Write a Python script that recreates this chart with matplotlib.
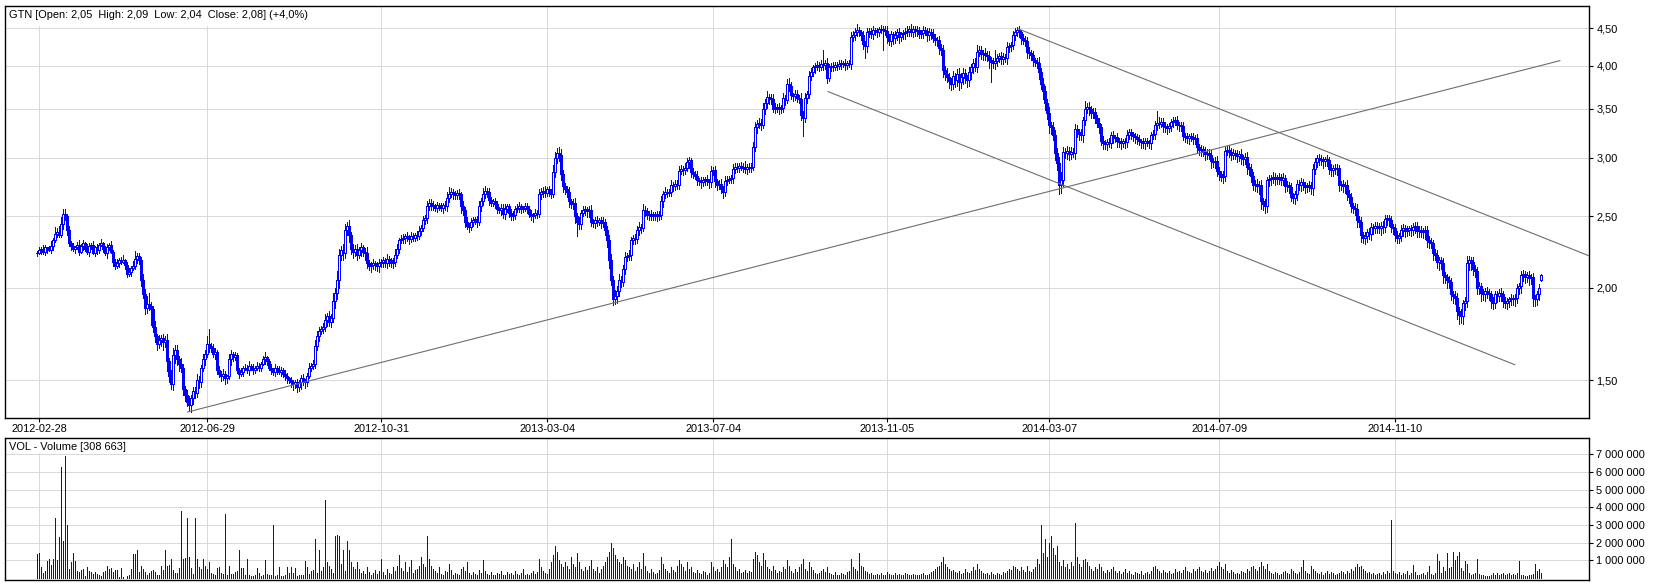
import numpy as np
import matplotlib
matplotlib.use("Agg")
import matplotlib.pyplot as plt
from matplotlib.ticker import FixedLocator, NullLocator, FuncFormatter
from matplotlib.patches import Rectangle

plt.rcParams['font.family'] = ['Liberation Sans', 'DejaVu Sans']

# ---------------- data (daily closes in grosze, day index starts at -1) ----------------
close_cents = [
    223, 225, 226, 224, 227, 226, 225, 228, 232, 237,
    238, 236, 244, 252, 250, 240, 230, 228, 226, 227,
    229, 224, 228, 230, 226, 224, 228, 229, 223, 227,
    225, 229, 230, 226, 223, 227, 229, 224, 217, 214,
    216, 218, 217, 218, 215, 209, 210, 213, 214, 219,
    221, 218, 205, 196, 188, 190, 189, 187, 177, 172,
    168, 170, 171, 169, 170, 159, 152, 148, 162, 165,
    160, 158, 156, 146, 143, 140, 139, 142, 145, 144,
    150, 149, 156, 160, 163, 168, 167, 166, 163, 164,
    155, 153, 152, 153, 151, 152, 160, 163, 161, 162,
    155, 153, 154, 156, 156, 155, 157, 156, 155, 156,
    157, 156, 158, 160, 161, 159, 156, 155, 154, 156,
    155, 154, 155, 153, 152, 151, 150, 149, 148, 149,
    147, 149, 151, 150, 149, 152, 156, 157, 158, 167,
    172, 175, 176, 177, 181, 183, 180, 182, 192, 197,
    205, 222, 225, 223, 240, 243, 236, 226, 224, 226,
    222, 225, 227, 224, 223, 216, 214, 215, 216, 215,
    214, 216, 217, 218, 216, 219, 218, 216, 217, 222,
    226, 232, 233, 234, 235, 234, 233, 235, 234, 236,
    235, 239, 241, 247, 249, 258, 261, 259, 258, 257,
    259, 258, 257, 259, 258, 265, 268, 270, 268, 267,
    269, 268, 258, 255, 246, 243, 242, 246, 247, 248,
    246, 258, 262, 268, 271, 270, 263, 261, 262, 260,
    256, 255, 257, 252, 256, 258, 253, 250, 251, 256,
    257, 258, 256, 257, 258, 256, 252, 250, 251, 253,
    252, 268, 270, 271, 269, 272, 270, 268, 287, 300,
    305, 303, 285, 275, 272, 270, 262, 260, 261, 250,
    246, 244, 253, 255, 256, 254, 255, 246, 245, 247,
    246, 247, 245, 246, 240, 232, 218, 205, 193, 195,
    198, 205, 204, 212, 220, 221, 222, 232, 234, 233,
    240, 242, 241, 255, 254, 251, 252, 250, 251, 252,
    250, 251, 262, 268, 270, 269, 270, 276, 275, 277,
    276, 288, 290, 289, 291, 296, 298, 287, 285, 284,
    280, 279, 278, 280, 281, 279, 278, 288, 289, 279,
    276, 277, 272, 270, 279, 280, 281, 282, 290, 292,
    291, 293, 292, 291, 290, 292, 291, 292, 310, 330,
    334, 335, 333, 350, 356, 363, 362, 361, 350, 351,
    352, 350, 351, 362, 360, 378, 376, 365, 364, 366,
    362, 361, 343, 340, 362, 366, 388, 392, 398, 400,
    401, 399, 402, 401, 403, 385, 398, 400, 399, 401,
    400, 402, 403, 404, 401, 403, 402, 438, 440, 445,
    447, 444, 440, 428, 425, 445, 446, 441, 447, 446,
    445, 448, 449, 447, 446, 437, 432, 441, 436, 440,
    444, 437, 441, 443, 445, 446, 448, 444, 449, 446,
    447, 442, 443, 447, 446, 440, 444, 442, 436, 433,
    433, 423, 420, 395, 390, 386, 381, 378, 387, 383,
    390, 380, 386, 391, 385, 383, 392, 398, 404, 399,
    418, 420, 415, 416, 414, 413, 407, 405, 403, 406,
    410, 412, 409, 411, 410, 424, 425, 427, 440, 445,
    447, 444, 436, 434, 432, 418, 416, 414, 407, 405,
    404, 392, 378, 370, 356, 345, 332, 330, 322, 305,
    295, 276, 280, 306, 305, 307, 304, 306, 305, 328,
    325, 323, 322, 338, 350, 352, 349, 345, 346, 340,
    335, 330, 316, 314, 313, 315, 314, 322, 319, 320,
    316, 315, 314, 316, 315, 322, 325, 323, 321, 320,
    318, 316, 315, 314, 316, 315, 314, 322, 323, 333,
    335, 334, 336, 331, 330, 329, 331, 336, 337, 338,
    333, 332, 331, 321, 320, 319, 321, 320, 318, 319,
    310, 308, 309, 306, 304, 305, 303, 297, 296, 297,
    288, 285, 283, 284, 307, 308, 306, 303, 305, 304,
    302, 304, 300, 299, 301, 292, 290, 284, 276, 277,
    275, 276, 262, 260, 258, 280, 281, 282, 283, 281,
    282, 283, 280, 282, 275, 276, 274, 266, 265, 268,
    277, 276, 278, 276, 274, 275, 276, 273, 290, 296,
    300, 299, 298, 297, 299, 298, 290, 289, 291, 290,
    291, 276, 277, 275, 276, 268, 266, 258, 257, 256,
    247, 246, 236, 234, 235, 238, 237, 242, 241, 243,
    242, 241, 243, 242, 248, 249, 247, 242, 241, 236,
    234, 235, 240, 241, 239, 240, 241, 240, 242, 243,
    239, 240, 238, 239, 240, 232, 231, 230, 223, 222,
    217, 218, 216, 208, 207, 205, 204, 196, 195, 194,
    186, 184, 183, 191, 192, 216, 218, 217, 212, 211,
    200, 201, 197, 196, 198, 197, 196, 192, 191, 196,
    195, 197, 196, 192, 191, 192, 193, 194, 193, 194,
    200, 201, 208, 209, 207, 208, 206, 207, 194, 193,
    196, 200, 208,
]

# upper / lower wick length of each candle, in units of 0.2 % of the body edge
wick_up = [
    3, 5, 2, 6, 4, 0, 5, 8, 4, 10,
    6, 9, 12, 5, 7, 4, 6, 3, 5, 2,
    4, 7, 3, 5, 2, 8, 4, 3, 6, 2,
    5, 3, 7, 2, 4, 6, 3, 5, 2, 4,
    6, 3, 5, 8, 2, 4, 7, 3, 9, 12,
    5, 4, 6, 10, 8, 14, 5, 7, 6, 9,
    4, 8, 5, 6, 7, 10, 6, 9, 12, 8,
    7, 5, 9, 6, 4, 8, 10, 5, 7, 6,
    9, 6, 4, 8, 5, 12, 7, 4, 6, 5,
    3, 6, 4, 7, 5, 2, 8, 6, 3, 5,
    4, 2, 6, 3, 5, 4, 7, 2, 5, 3,
    6, 4, 3, 5, 8, 2, 4, 6, 3, 5,
    2, 5, 4, 3, 6, 4, 2, 5, 3, 4,
    5, 3, 4, 6, 2, 5, 7, 4, 6, 9,
    8, 6, 5, 7, 10, 6, 9, 7, 12, 8,
    14, 9, 7, 10, 8, 6, 9, 5, 7, 6,
    8, 5, 7, 4, 6, 9, 5, 4, 7, 3,
    5, 7, 4, 6, 3, 8, 5, 4, 6, 9,
    7, 4, 6, 5, 3, 6, 4, 7, 5, 3,
    6, 8, 5, 7, 4, 9, 6, 5, 7, 4,
    5, 3, 6, 4, 7, 9, 5, 6, 4, 5,
    4, 6, 3, 8, 5, 7, 4, 6, 5, 3,
    5, 8, 6, 9, 7, 4, 6, 5, 3, 6,
    4, 3, 6, 5, 7, 4, 3, 5, 6, 4,
    5, 7, 4, 3, 6, 5, 4, 6, 3, 5,
    4, 8, 6, 5, 7, 4, 6, 5, 12, 10,
    8, 6, 9, 7, 5, 6, 8, 4, 6, 7,
    5, 7, 4, 6, 5, 3, 6, 8, 4, 5,
    6, 4, 5, 7, 4, 6, 8, 10, 7, 9,
    8, 10, 7, 6, 9, 5, 7, 6, 4, 6,
    5, 7, 4, 9, 6, 5, 4, 6, 5, 3,
    4, 6, 8, 5, 7, 4, 5, 7, 4, 6,
    5, 8, 6, 4, 7, 6, 5, 4, 6, 5,
    7, 4, 6, 5, 3, 6, 4, 8, 5, 6,
    4, 6, 7, 5, 8, 6, 4, 5, 7, 6,
    5, 4, 6, 5, 10, 4, 5, 6, 9, 8,
    6, 7, 5, 8, 6, 9, 5, 6, 8, 7,
    5, 6, 4, 7, 5, 8, 6, 5, 4, 6,
    7, 5, 9, 6, 8, 5, 7, 6, 4, 5,
    6, 4, 7, 5, 6, 8, 5, 4, 6, 5,
    4, 6, 5, 3, 6, 4, 5, 7, 6, 5,
    6, 5, 4, 7, 5, 6, 4, 5, 6, 4,
    5, 4, 6, 5, 7, 8, 6, 5, 4, 6,
    5, 6, 4, 5, 6, 7, 5, 6, 5, 4,
    6, 5, 4, 6, 5, 4, 6, 5, 7, 6,
    5, 7, 6, 8, 6, 9, 7, 5, 8, 6,
    7, 9, 6, 8, 7, 5, 8, 6, 5, 7,
    10, 6, 7, 5, 8, 6, 7, 5, 6, 4,
    6, 5, 7, 6, 5, 8, 6, 5, 7, 6,
    5, 6, 4, 7, 5, 6, 8, 5, 6, 4,
    6, 8, 7, 9, 8, 7, 10, 6, 8, 9,
    7, 10, 12, 8, 6, 7, 5, 8, 6, 9,
    7, 6, 8, 5, 12, 6, 7, 5, 6, 7,
    5, 7, 6, 8, 5, 6, 7, 5, 6, 4,
    6, 5, 7, 4, 6, 8, 5, 6, 4, 5,
    5, 6, 4, 7, 5, 6, 4, 5, 7, 6,
    5, 9, 6, 5, 7, 6, 5, 4, 6, 5,
    6, 4, 5, 7, 5, 6, 4, 5, 6, 5,
    7, 5, 6, 4, 8, 6, 5, 7, 5, 6,
    8, 6, 5, 7, 6, 5, 7, 6, 5, 4,
    6, 5, 7, 5, 6, 8, 6, 7, 5, 6,
    7, 6, 8, 6, 7, 5, 6, 5, 7, 6,
    5, 6, 4, 7, 5, 6, 5, 7, 6, 5,
    6, 5, 7, 6, 5, 4, 6, 5, 8, 6,
    5, 7, 6, 5, 4, 6, 5, 7, 5, 6,
    6, 5, 4, 6, 5, 7, 6, 5, 6, 7,
    8, 6, 7, 5, 6, 5, 7, 6, 5, 6,
    5, 6, 5, 7, 6, 5, 4, 6, 5, 7,
    6, 5, 7, 6, 5, 6, 4, 5, 6, 5,
    5, 6, 5, 4, 6, 5, 7, 6, 5, 6,
    7, 6, 5, 8, 6, 5, 7, 6, 5, 8,
    7, 6, 9, 5, 7, 12, 6, 5, 7, 6,
    6, 7, 5, 6, 5, 7, 6, 5, 6, 5,
    5, 6, 7, 5, 6, 5, 4, 6, 5, 6,
    6, 5, 7, 6, 5, 6, 7, 5, 6, 5,
    5, 6, 2,
]
wick_down = [
    4, 2, 6, 3, 5, 7, 2, 4, 6, 3,
    5, 3, 4, 8, 6, 9, 5, 7, 4, 6,
    3, 5, 2, 6, 4, 3, 7, 5, 2, 4,
    6, 4, 2, 5, 3, 7, 4, 2, 6, 5,
    3, 6, 4, 2, 7, 5, 3, 6, 4, 5,
    7, 5, 9, 6, 10, 8, 6, 12, 7, 9,
    10, 7, 9, 12, 8, 14, 10, 7, 9, 11,
    8, 12, 7, 10, 9, 6, 8, 11, 9, 7,
    6, 9, 7, 5, 8, 6, 10, 7, 5, 8,
    7, 5, 8, 6, 9, 7, 5, 8, 6, 4,
    5, 7, 4, 6, 3, 5, 8, 4, 6, 5,
    4, 6, 5, 3, 7, 5, 4, 6, 5, 7,
    6, 4, 7, 5, 6, 8, 5, 7, 9, 6,
    8, 6, 5, 7, 9, 6, 4, 6, 5, 7,
    6, 8, 5, 7, 6, 9, 7, 8, 6, 10,
    9, 12, 8, 10, 7, 9, 11, 8, 10, 7,
    8, 6, 9, 7, 10, 8, 6, 9, 7, 8,
    7, 9, 6, 8, 5, 7, 9, 6, 8, 6,
    5, 7, 4, 6, 8, 5, 7, 4, 6, 5,
    6, 4, 7, 5, 6, 8, 5, 7, 6, 5,
    7, 5, 6, 8, 5, 7, 6, 4, 7, 5,
    6, 8, 10, 7, 9, 6, 8, 5, 7, 6,
    8, 6, 7, 5, 6, 8, 7, 6, 5, 7,
    6, 5, 7, 6, 8, 5, 7, 6, 5, 6,
    5, 7, 6, 5, 6, 7, 5, 6, 8, 5,
    6, 5, 7, 8, 6, 5, 7, 6, 5, 8,
    7, 9, 8, 10, 7, 8, 9, 6, 8, 10,
    9, 7, 8, 6, 7, 9, 8, 7, 6, 8,
    7, 6, 8, 7, 9, 10, 12, 8, 9, 7,
    10, 8, 9, 7, 8, 6, 7, 8, 6, 7,
    6, 8, 7, 5, 7, 6, 8, 6, 5, 7,
    7, 5, 6, 8, 6, 7, 5, 6, 8, 6,
    6, 7, 5, 8, 6, 5, 9, 7, 6, 5,
    7, 6, 8, 5, 7, 6, 8, 7, 6, 9,
    8, 7, 6, 9, 7, 6, 5, 7, 8, 6,
    7, 6, 5, 7, 6, 8, 6, 7, 5, 6,
    8, 7, 9, 6, 8, 7, 9, 8, 6, 7,
    6, 8, 7, 6, 9, 5, 8, 6, 7, 6,
    7, 6, 8, 9, 7, 8, 6, 7, 6, 8,
    6, 7, 5, 8, 6, 7, 5, 6, 7, 5,
    6, 5, 7, 6, 8, 6, 5, 7, 6, 8,
    7, 6, 8, 7, 6, 8, 9, 6, 7, 6,
    8, 7, 6, 9, 7, 8, 6, 7, 9, 7,
    7, 8, 6, 7, 9, 7, 8, 6, 7, 8,
    8, 6, 7, 8, 6, 9, 7, 8, 6, 7,
    9, 10, 8, 11, 9, 8, 10, 9, 8, 11,
    10, 12, 9, 10, 8, 11, 9, 10, 8, 7,
    9, 7, 8, 10, 8, 9, 12, 8, 7, 9,
    8, 7, 9, 8, 7, 9, 8, 7, 6, 8,
    7, 8, 9, 7, 8, 10, 7, 8, 9, 7,
    9, 10, 8, 12, 10, 9, 11, 10, 8, 12,
    10, 14, 12, 9, 8, 10, 9, 8, 7, 10,
    8, 9, 7, 10, 8, 7, 9, 8, 7, 8,
    7, 8, 6, 9, 7, 8, 6, 7, 8, 6,
    8, 7, 9, 6, 8, 7, 6, 8, 7, 9,
    7, 6, 8, 7, 9, 6, 7, 8, 6, 7,
    8, 7, 6, 9, 7, 8, 6, 7, 8, 7,
    7, 8, 7, 6, 8, 7, 9, 6, 7, 8,
    9, 8, 10, 7, 9, 8, 7, 10, 8, 9,
    8, 9, 7, 10, 8, 7, 9, 8, 7, 8,
    9, 8, 10, 9, 8, 11, 9, 10, 8, 9,
    10, 12, 11, 9, 10, 8, 9, 10, 8, 9,
    8, 9, 7, 8, 10, 8, 9, 7, 8, 9,
    9, 8, 10, 8, 9, 7, 8, 9, 10, 8,
    8, 9, 8, 10, 7, 9, 8, 10, 9, 8,
    9, 10, 8, 9, 11, 9, 10, 8, 9, 10,
    10, 9, 11, 8, 10, 9, 8, 10, 9, 8,
    9, 8, 10, 9, 8, 10, 9, 8, 9, 10,
    8, 9, 8, 10, 9, 8, 9, 10, 8, 9,
    9, 10, 8, 9, 12, 10, 9, 8, 10, 9,
    10, 12, 9, 11, 10, 12, 10, 9, 11, 10,
    12, 14, 10, 12, 11, 9, 10, 12, 9, 10,
    9, 10, 12, 9, 10, 8, 9, 10, 9, 8,
    9, 8, 10, 9, 8, 10, 9, 8, 9, 10,
    8, 9, 10, 8, 9, 8, 10, 9, 12, 10,
    9, 8, 2,
]

# daily volume in units of 10 000 shares
volume_10k = [
    136, 142, 60, 26, 40, 96, 107, 75, 107, 340,
    104, 230, 630, 210, 690, 300, 53, 90, 140, 96,
    40, 32, 45, 53, 12, 64, 40, 32, 23, 32,
    23, 20, 12, 32, 38, 66, 49, 57, 32, 45,
    45, 8, 55, 8, 3, 11, 15, 53, 136, 136,
    158, 34, 68, 53, 34, 19, 30, 38, 45, 34,
    15, 15, 70, 45, 158, 70, 75, 110, 45, 26,
    26, 57, 378, 107, 115, 340, 120, 57, 23, 340,
    107, 60, 50, 110, 70, 50, 90, 30, 25, 20,
    55, 60, 30, 25, 360, 20, 70, 25, 25, 35,
    40, 158, 55, 55, 20, 106, 15, 12, 10, 20,
    55, 30, 10, 20, 100, 25, 20, 15, 300, 10,
    15, 60, 10, 12, 15, 60, 30, 60, 30, 55,
    10, 15, 15, 20, 95, 60, 25, 40, 45, 220,
    30, 160, 40, 60, 440, 90, 70, 50, 30, 240,
    245, 240, 80, 160, 40, 210, 160, 90, 60, 50,
    90, 50, 30, 40, 25, 60, 35, 20, 30, 45,
    25, 40, 110, 35, 20, 50, 30, 25, 60, 40,
    70, 130, 55, 40, 90, 35, 60, 100, 30, 45,
    50, 70, 120, 80, 60, 240, 110, 70, 50, 40,
    30, 60, 25, 20, 40, 35, 80, 45, 20, 30,
    25, 15, 50, 60, 40, 90, 30, 20, 35, 25,
    20, 45, 30, 100, 40, 25, 20, 35, 15, 20,
    30, 25, 40, 20, 15, 35, 25, 30, 20, 40,
    25, 15, 30, 50, 20, 25, 15, 30, 40, 25,
    35, 110, 60, 40, 30, 25, 50, 90, 130, 180,
    150, 100, 80, 60, 90, 70, 50, 120, 80, 60,
    140, 90, 50, 40, 60, 45, 70, 100, 50, 40,
    60, 30, 50, 70, 90, 120, 150, 200, 170, 130,
    110, 90, 80, 120, 100, 70, 60, 50, 80, 40,
    60, 90, 50, 140, 70, 40, 30, 50, 35, 25,
    30, 45, 120, 80, 50, 40, 30, 60, 45, 35,
    70, 100, 80, 60, 40, 90, 50, 60, 35, 30,
    45, 30, 25, 40, 35, 20, 30, 90, 60, 40,
    50, 35, 60, 100, 80, 60, 120, 220, 80, 60,
    40, 50, 30, 35, 45, 30, 40, 35, 110, 150,
    130, 90, 70, 140, 100, 60, 50, 40, 70, 45,
    30, 40, 35, 60, 50, 100, 70, 40, 30, 50,
    35, 60, 80, 110, 50, 40, 90, 60, 45, 30,
    25, 30, 40, 50, 35, 60, 30, 25, 20, 35,
    20, 15, 30, 25, 20, 35, 40, 110, 60, 50,
    40, 140, 70, 60, 40, 35, 25, 30, 20, 15,
    25, 20, 30, 15, 20, 35, 25, 20, 15, 30,
    20, 25, 15, 20, 30, 25, 15, 20, 25, 15,
    20, 15, 25, 30, 20, 15, 25, 35, 40, 50,
    60, 70, 90, 120, 80, 60, 50, 40, 45, 35,
    30, 40, 25, 30, 50, 35, 30, 40, 60, 45,
    80, 50, 40, 30, 25, 30, 20, 35, 25, 20,
    30, 25, 20, 35, 30, 40, 50, 45, 70, 60,
    50, 40, 60, 45, 35, 70, 40, 35, 50, 60,
    110, 80, 300, 140, 220, 120, 200, 240, 170, 130,
    180, 90, 70, 100, 60, 80, 50, 90, 70, 310,
    120, 80, 60, 100, 110, 90, 70, 50, 40, 60,
    50, 80, 60, 40, 30, 45, 35, 50, 60, 40,
    30, 40, 25, 35, 50, 30, 40, 25, 20, 35,
    30, 25, 40, 20, 30, 35, 25, 40, 60, 70,
    50, 40, 30, 45, 35, 30, 40, 25, 30, 50,
    35, 40, 30, 45, 60, 40, 35, 30, 50, 40,
    50, 60, 40, 35, 45, 30, 40, 55, 40, 50,
    70, 90, 60, 50, 80, 40, 30, 45, 35, 25,
    30, 25, 40, 35, 30, 50, 40, 60, 70, 50,
    40, 60, 90, 70, 50, 80, 40, 30, 25, 35,
    30, 20, 25, 35, 40, 30, 25, 50, 40, 30,
    25, 35, 60, 100, 40, 30, 25, 70, 50, 40,
    30, 25, 35, 20, 30, 40, 25, 35, 30, 20,
    25, 30, 40, 35, 25, 40, 30, 50, 40, 60,
    80, 60, 70, 50, 40, 30, 35, 25, 30, 20,
    25, 30, 20, 35, 25, 40, 30, 330, 40, 30,
    25, 35, 20, 30, 25, 40, 20, 30, 75, 35,
    20, 15, 25, 30, 20, 35, 70, 25, 20, 30,
    137, 98, 30, 60, 40, 141, 55, 65, 149, 102,
    125, 149, 55, 40, 96, 78, 30, 20, 25, 30,
    108, 25, 20, 15, 10, 12, 10, 15, 30, 15,
    30, 20, 25, 30, 20, 25, 30, 20, 25, 15,
    30, 96, 20, 15, 10, 12, 15, 20, 25, 78,
    40, 50, 31,
]

# notable long wicks (day index, price)
high_wick_days = [12, 55, 85, 154, 205, 260, 375, 392, 409, 436, 478, 523, 559, 715]
high_wick_vals = [2.56, 1.97, 1.76, 2.46, 2.74, 3.10, 3.85, 4.20, 4.55, 4.55, 4.20, 3.58, 3.47, 2.21]
low_wick_days = [56, 75, 131, 215, 269, 288, 382, 413, 422, 476, 510, 590, 612, 710]
low_wick_vals = [1.78, 1.38, 1.46, 2.40, 2.35, 1.90, 3.21, 4.10, 4.20, 3.80, 2.71, 2.80, 2.56, 1.80]
last_open = 2.05

date_labels = ['2012-02-28', '2012-06-29', '2012-10-31', '2013-03-04', '2013-07-04',
               '2013-11-05', '2014-03-07', '2014-07-09', '2014-11-10']
date_tick_days = [0, 84, 171, 254, 337, 424, 505, 590, 678]
price_ticks = [1.5, 2.0, 2.5, 3.0, 3.5, 4.0, 4.5]
volume_ticks = [1e6, 2e6, 3e6, 4e6, 5e6, 6e6, 7e6]

# trend lines: (day, price) endpoints
trend_support = ([74.1, 760.4], [1.358, 4.064])
trend_upper = ([489.5, 775.0], [4.489, 2.211])
trend_lower = ([394.5, 737.9], [3.69, 1.574])

title_text = "GTN [Open: 2,05  High: 2,09  Low: 2,04  Close: 2,08] (+4,0%)"
vol_text = "VOL - Volume [308 663]"

# ---------------- figure ----------------
W, H = 1653, 585
fig = plt.figure(figsize=(W / 100, H / 100), dpi=100)
fig.patch.set_facecolor('white')

def fx(px):
    return px / W

def fy(py):
    return 1 - py / H

L, R = 5, 1589
ax = fig.add_axes([fx(L), fy(418), fx(R - L), (418 - 6) / H])
axv = fig.add_axes([fx(L), fy(580), fx(R - L), (580 - 438) / H])

blue = '#0000ff'
grid_c = '#d9d9d9'
fs = 7.9
px1 = 0.72  # one pixel in points

closes = np.array(close_cents) / 100.0
n = len(closes)
x = np.arange(n) - 1
opens = np.r_[closes[0], closes[:-1]]
opens[-1] = last_open
body_top = np.maximum(opens, closes)
body_bot = np.minimum(opens, closes)
highs = body_top * (1 + np.array(wick_up) * 0.002)
lows = body_bot * (1 - np.array(wick_down) * 0.002)
for d, v in zip(high_wick_days, high_wick_vals):
    highs[d + 1] = max(highs[d + 1], v)
for d, v in zip(low_wick_days, low_wick_vals):
    lows[d + 1] = min(lows[d + 1], v)

up = closes >= opens
ax.vlines(x, lows, highs, color=blue, lw=px1, zorder=2, antialiased=False)
ax.bar(x[~up], (closes - opens)[~up], bottom=opens[~up], width=1.0,
       color=blue, edgecolor=blue, linewidth=px1, zorder=3, antialiased=False)
ax.bar(x[up], (closes - opens)[up], bottom=opens[up], width=1.0,
       facecolor='white', edgecolor=blue, linewidth=px1, zorder=3, antialiased=False)

for tx, ty in (trend_support, trend_upper, trend_lower):
    ax.plot(tx, ty, color='#6e6e6e', lw=0.8, zorder=4)

ax.set_yscale('log')
ax.set_ylim(1.333, 4.82)
ax.set_xlim(-17.15, 775)
ax.yaxis.set_major_locator(FixedLocator(price_ticks))
ax.yaxis.set_minor_locator(NullLocator())
ax.yaxis.set_major_formatter(FuncFormatter(lambda v, p: f"{v:.2f}".replace('.', ',')))
ax.yaxis.tick_right()
ax.xaxis.set_major_locator(FixedLocator(date_tick_days))
ax.set_xticklabels(date_labels)
ax.set_axisbelow(True)
ax.grid(True, color=grid_c, lw=px1)

# volume
vol = np.array(volume_10k) * 1e4
axv.vlines(np.arange(len(vol)) - 1, 0, vol, color=blue, lw=px1, zorder=2, antialiased=False)
axv.set_xlim(-17.15, 775)
axv.set_ylim(-0.11e6, 7.92e6)
axv.yaxis.set_major_locator(FixedLocator(volume_ticks))
axv.yaxis.set_major_formatter(FuncFormatter(lambda v, p: f"{int(v):,}".replace(',', ' ')))
axv.yaxis.tick_right()
axv.xaxis.set_major_locator(FixedLocator(date_tick_days))
axv.set_xticklabels([])
axv.tick_params(axis='x', length=0)
axv.set_axisbelow(True)
axv.grid(True, color=grid_c, lw=px1)

for a in (ax, axv):
    for s in a.spines.values():
        s.set_linewidth(1.0)
        s.set_color('black')
    a.tick_params(axis='y', direction='out', length=3.2, width=0.8, pad=2, labelsize=fs)
ax.tick_params(axis='x', direction='out', length=3.0, width=0.8, pad=1.5, labelsize=fs)

# title boxes
ax.add_patch(Rectangle((0, 1 - 20 / 412), (315 - 5) / 1584, 20 / 412, transform=ax.transAxes,
                       facecolor='white', edgecolor='none', zorder=1))
axv.add_patch(Rectangle((0, 1 - 15 / 142), (128 - 5) / 1584, 15 / 142, transform=axv.transAxes,
                        facecolor='white', edgecolor='none', zorder=1))
fig.text(fx(9), fy(15), title_text, fontsize=fs, ha='left', va='center', zorder=10)
fig.text(fx(9), fy(447), vol_text, fontsize=fs, ha='left', va='center', zorder=10)

fig.savefig('out.png', dpi=100, facecolor='white')
